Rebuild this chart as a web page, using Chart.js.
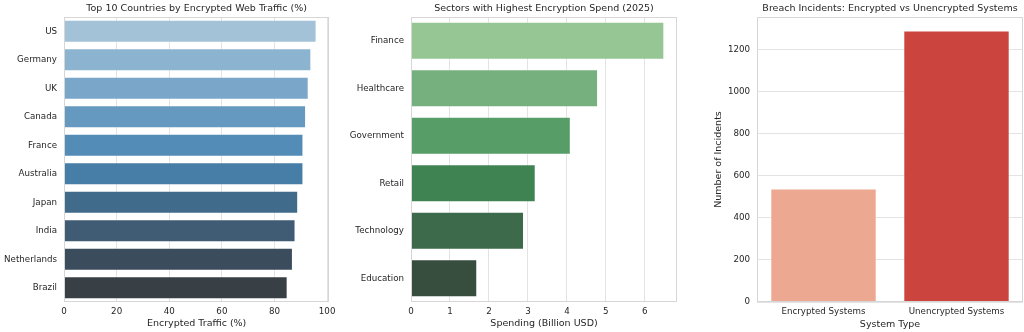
<!DOCTYPE html>
<html>
<head>
<meta charset="utf-8">
<script src="https://cdn.jsdelivr.net/npm/chart.js@4/dist/chart.umd.min.js"></script>
<style>
  body { margin: 0; background: #fff; }
  .panel { position: absolute; top: 0; height: 332px; }
</style>
</head>
<body>
<div class="panel" style="left:0;width:340px"><canvas id="c1"></canvas></div>
<div class="panel" style="left:340px;width:350px"><canvas id="c2"></canvas></div>
<div class="panel" style="left:690px;width:334px"><canvas id="c3"></canvas></div>
<script>
// data
const countries = ['US', 'Germany', 'UK', 'Canada', 'France', 'Australia', 'Japan', 'India', 'Netherlands', 'Brazil'];
const trafficPct = [96, 94, 93, 92, 91, 91, 89, 88, 87, 85];

const sectors = ['Finance', 'Healthcare', 'Government', 'Retail', 'Technology', 'Education'];
const spendBillion = [6.5, 4.8, 4.1, 3.2, 2.9, 1.7];

const systemTypes = ['Encrypted Systems', 'Unencrypted Systems'];
const incidents = [540, 1290];

// colours (seaborn-ish palettes)
const bluesD = ['#a3c2d8', '#8cb3cf', '#7aa7c9', '#6699c0', '#548cb8', '#477ea7', '#416b8b', '#3f5c74', '#3b4c5c', '#383f45'];
const greensD = ['#95c694', '#76b07e', '#569d68', '#408353', '#3d6a4b', '#374d3e'];
const redsPal = ['#eca890', '#cb443e'];

Chart.defaults.font.family = 'DejaVu Sans';
Chart.defaults.color = '#262626';
Chart.defaults.animation = false;

const tickFont = { size: 8.7 };
const labelFont = { size: 9.5 };
const gridColor = '#e3e3e3';

// light frame around the plot area like seaborn whitegrid,
// plus the title centred over the plot area (not the canvas)
const frame = {
    id: 'frame',
    afterDraw(chart, args, opts) {
        let a = chart.chartArea;
        let ctx = chart.ctx;
        ctx.save();
        ctx.strokeStyle = '#d6d6d6';
        ctx.lineWidth = 1;
        ctx.strokeRect(Math.round(a.left) + 0.5, Math.round(a.top) + 0.5,
            Math.round(a.right - a.left) - 1, Math.round(a.bottom - a.top) - 1);
        ctx.fillStyle = '#262626';
        ctx.font = '9.5px "DejaVu Sans"';
        ctx.textAlign = 'center';
        ctx.textBaseline = 'middle';
        ctx.fillText(opts.text, (a.left + a.right) / 2, 9);
        ctx.restore();
    }
};

function fixSize(w) {
    return function (scale) { scale.width = w; };
}
function fixHeight(h) {
    return function (scale) { scale.height = h; };
}

function hbar(id, labels, values, colors, title, xTitle, xMax, step, yWidth, padRight) {
    new Chart(document.getElementById(id), {
        type: 'bar',
        data: {
            labels: labels,
            datasets: [{
                data: values,
                backgroundColor: colors,
                borderColor: 'rgba(255,255,255,0.35)',
                borderWidth: 1,
                barPercentage: 0.8,
                categoryPercentage: 1.0
            }]
        },
        options: {
            indexAxis: 'y',
            responsive: true,
            maintainAspectRatio: false,
            layout: { padding: { left: 0, right: padRight, top: 17, bottom: 0 } },
            plugins: {
                legend: { display: false },
                tooltip: { enabled: false },
                frame: { text: title }
            },
            scales: {
                x: {
                    min: 0,
                    max: xMax,
                    ticks: { stepSize: step, includeBounds: false, font: tickFont, padding: 4.5, maxRotation: 0 },
                    grid: { color: gridColor, drawTicks: false },
                    border: { display: false },
                    title: { display: true, text: xTitle, font: labelFont, padding: { top: 0, bottom: 2.3 } },
                    afterFit: fixHeight(30)
                },
                y: {
                    ticks: { font: tickFont, padding: 7 },
                    grid: { display: false, drawTicks: false },
                    border: { display: false },
                    afterFit: fixSize(yWidth)
                }
            }
        },
        plugins: [frame]
    });
}

hbar('c1', countries, trafficPct, bluesD, 'Top 10 Countries by Encrypted Web Traffic (%)',
    'Encrypted Traffic (%)', 100.8, 20, 64, 10);
hbar('c2', sectors, spendBillion, greensD, 'Sectors with Highest Encryption Spend (2025)',
    'Spending (Billion USD)', 6.825, 1, 71, 13);

new Chart(document.getElementById('c3'), {
    type: 'bar',
    data: {
        labels: systemTypes,
        datasets: [{
            data: incidents,
            backgroundColor: redsPal,
            borderColor: 'rgba(255,255,255,0.35)',
            borderWidth: 1,
            barPercentage: 0.8,
            categoryPercentage: 1.0
        }]
    },
    options: {
        responsive: true,
        maintainAspectRatio: false,
        layout: { padding: { left: 0, right: 1, top: 17, bottom: 0 } },
        plugins: {
            legend: { display: false },
            tooltip: { enabled: false },
            frame: { text: 'Breach Incidents: Encrypted vs Unencrypted Systems' }
        },
        scales: {
            x: {
                ticks: { font: tickFont, padding: 4.5, maxRotation: 0 },
                grid: { display: false, drawTicks: false },
                border: { display: false },
                title: { display: true, text: 'System Type', font: labelFont, padding: { top: 0, bottom: 1.5 } },
                afterFit: fixHeight(30)
            },
            y: {
                min: 0,
                max: 1354.5,
                ticks: {
                    stepSize: 200, includeBounds: false, font: tickFont, padding: 7,
                    callback: function (v) { return String(v); }
                },
                grid: { color: gridColor, drawTicks: false },
                border: { display: false },
                title: { display: true, text: 'Number of Incidents', font: labelFont, padding: { top: 23, bottom: 0 } },
                afterFit: fixSize(67)
            }
        }
    },
    plugins: [frame]
});
</script>
</body>
</html>
